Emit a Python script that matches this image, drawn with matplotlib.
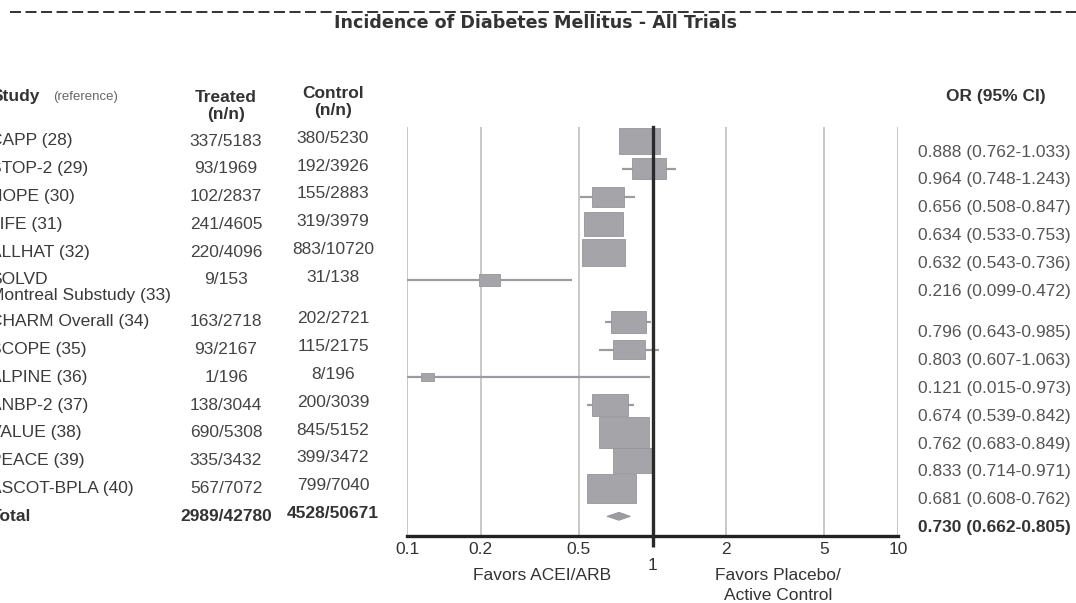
import numpy as np
import matplotlib.pyplot as plt
import matplotlib.transforms as mtransforms
from matplotlib.patches import Rectangle, Polygon
from matplotlib.lines import Line2D
from matplotlib.ticker import FixedLocator, FixedFormatter

plt.rcParams['font.family'] = ['Liberation Sans', 'DejaVu Sans']

# data
studies = ['CAPP (28)', 'STOP-2 (29)', 'HOPE (30)', 'LIFE (31)', 'ALLHAT (32)',
           'SOLVD\nMontreal Substudy (33)', 'CHARM Overall (34)', 'SCOPE (35)',
           'ALPINE (36)', 'ANBP-2 (37)', 'VALUE (38)', 'PEACE (39)',
           'ASCOT-BPLA (40)']
treated = ['337/5183', '93/1969', '102/2837', '241/4605', '220/4096', '9/153',
           '163/2718', '93/2167', '1/196', '138/3044', '690/5308', '335/3432',
           '567/7072']
control = ['380/5230', '192/3926', '155/2883', '319/3979', '883/10720', '31/138',
           '202/2721', '115/2175', '8/196', '200/3039', '845/5152', '399/3472',
           '799/7040']
odds = [0.888, 0.964, 0.656, 0.634, 0.632, 0.216, 0.796, 0.803, 0.121, 0.674,
        0.762, 0.833, 0.681]
ci_lo = [0.762, 0.748, 0.508, 0.533, 0.543, 0.099, 0.643, 0.607, 0.015, 0.539,
         0.683, 0.714, 0.608]
ci_hi = [1.033, 1.243, 0.847, 0.753, 0.736, 0.472, 0.985, 1.063, 0.973, 0.842,
         0.849, 0.971, 0.762]
weights = [9.4, 6.4, 5.7, 8.5, 10.5, 2.4, 6.9, 5.8, 0.9, 7.2, 13.9, 9.3, 13.0]

total_treated = '2989/42780'
total_control = '4528/50671'
total_or, total_lo, total_hi = 0.730, 0.662, 0.805

xticks = [0.1, 0.2, 0.5, 2, 5, 10]
xtick_labels = ['0.1', '0.2', '0.5', '2', '5', '10']

W, H = 1076, 603
fig = plt.figure(figsize=(W / 100, H / 100), dpi=100)

def fx(px):
    return px / W

def fy(py):
    return 1 - py / H

# row positions: extra half row after a two line label
rows = []
pos = 0.0
for name in studies:
    rows.append(pos)
    pos += 1.5 if '\n' in name else 1.0
total_row = pos

row_px = 27.8
top_px, bot_px, left_px, right_px = 127, 536, 407, 898
ax = fig.add_axes([fx(left_px), fy(bot_px), fx(right_px - left_px),
                   (bot_px - top_px) / H])
ax.set_xscale('log')
ax.set_xlim(0.1, 10)
y_top = -(141 - top_px) / row_px
y_bot = (bot_px - 141) / row_px
ax.set_ylim(y_bot, y_top)

for s in ['top', 'right', 'left']:
    ax.spines[s].set_visible(False)
ax.spines['bottom'].set_linewidth(2.4)
ax.spines['bottom'].set_color('#222222')
ax.set_yticks([])

for xv in xticks:
    ax.axvline(xv, color='#c4c4c4', lw=1.3, zorder=1)
ax.axvline(1, color='#2a2a2a', lw=2.4, zorder=5, clip_on=False)

ax.xaxis.set_major_locator(FixedLocator(xticks))
ax.xaxis.set_major_formatter(FixedFormatter(xtick_labels))
ax.xaxis.set_minor_locator(FixedLocator([1]))
ax.xaxis.set_minor_formatter(FixedFormatter(['1']))
ax.tick_params(axis='x', which='major', length=0, pad=4.5, labelsize=12.5,
               labelcolor='#333333')
ax.tick_params(axis='x', which='minor', length=8, width=2.4, color='#2a2a2a',
               pad=7.5, labelsize=12.5, labelcolor='#333333')

box_col = '#a5a5a9'
edge_col = '#96969a'
for r, o, lo, hi, w in zip(rows, odds, ci_lo, ci_hi, weights):
    ax.plot([lo, hi], [r, r], color='#9c9ca0', lw=1.6, zorder=2,
            solid_capstyle='butt')
    h_px = 8.3 * np.sqrt(w)
    w_dec = 1.6 * h_px / 243
    hr = h_px / row_px
    x0 = o * 10 ** (-w_dec / 2)
    x1 = o * 10 ** (w_dec / 2)
    ax.add_patch(Rectangle((x0, r - hr / 2), x1 - x0, hr, facecolor=box_col,
                           edgecolor=edge_col, lw=0.6, zorder=3))

dh = 8 / row_px
ax.add_patch(Polygon([(total_lo * 0.985, total_row),
                      (total_or, total_row - dh / 2),
                      (total_hi * 1.01, total_row),
                      (total_or, total_row + dh / 2)],
                     closed=True, facecolor='#9c9ca0', edgecolor='#96969a',
                     lw=0.6, zorder=3))

# text columns, rows tied to the forest axes
tr = mtransforms.blended_transform_factory(fig.transFigure, ax.transData)
fs = 12.5
for r, name, t, c, o, lo, hi in zip(rows, studies, treated, control, odds,
                                     ci_lo, ci_hi):
    lines = name.split('\n')
    for k, ln in enumerate(lines):
        fig.text(fx(-9.5), r + 0.55 * k, ln, transform=tr, fontsize=fs,
                 color='#3a3a3a', va='center', ha='left')
    fig.text(fx(226), r, t, transform=tr, fontsize=fs, color='#444444',
             va='center', ha='center')
    fig.text(fx(333), r - 0.1, c, transform=tr, fontsize=fs, color='#444444',
             va='center', ha='center')
    fig.text(fx(918), r + 0.4, f'{o:.3f} ({lo:.3f}-{hi:.3f})', transform=tr,
             fontsize=fs, color='#555555', va='center', ha='left')

fig.text(fx(-9.5), total_row, 'Total', transform=tr, fontsize=fs,
         fontweight='bold', color='#333333', va='center', ha='left')
fig.text(fx(226), total_row, total_treated, transform=tr, fontsize=fs,
         fontweight='bold', color='#333333', va='center', ha='center')
fig.text(fx(333), total_row - 0.1, total_control, transform=tr, fontsize=fs,
         fontweight='bold', color='#333333', va='center', ha='center')
fig.text(fx(918), total_row + 0.4,
         f'{total_or:.3f} ({total_lo:.3f}-{total_hi:.3f})', transform=tr,
         fontsize=fs, fontweight='bold', color='#333333', va='center', ha='left')

# headers
fig.text(fx(-8.5), fy(97), 'Study', fontsize=fs, fontweight='bold',
         color='#333333', va='center', ha='left')
fig.text(fx(53), fy(97), '(reference)', fontsize=9.5, color='#666666',
         va='center', ha='left')
fig.text(fx(226), fy(97), 'Treated', fontsize=fs, fontweight='bold',
         color='#333333', va='center', ha='center')
fig.text(fx(226), fy(114), '(n/n)', fontsize=fs, fontweight='bold',
         color='#333333', va='center', ha='center')
fig.text(fx(333), fy(94), 'Control', fontsize=fs, fontweight='bold',
         color='#333333', va='center', ha='center')
fig.text(fx(333), fy(111), '(n/n)', fontsize=fs, fontweight='bold',
         color='#333333', va='center', ha='center')
fig.text(fx(996), fy(97), 'OR (95% CI)', fontsize=fs, fontweight='bold',
         color='#333333', va='center', ha='center')

fig.text(fx(536), fy(22.5), 'Incidence of Diabetes Mellitus - All Trials',
         fontsize=12.6, fontweight='bold', color='#333333', va='center',
         ha='center', family=['DejaVu Sans'])
fig.add_artist(Line2D([fx(10), fx(1076)], [fy(11.5), fy(11.5)],
                      color='#222222', lw=1.3, dashes=(6.1, 2.5),
                      transform=fig.transFigure))

fig.text(fx(542), fy(576), 'Favors ACEI/ARB', fontsize=fs, color='#333333',
         va='center', ha='center')
fig.text(fx(778), fy(576), 'Favors Placebo/', fontsize=fs, color='#333333',
         va='center', ha='center')
fig.text(fx(778), fy(596), 'Active Control', fontsize=fs, color='#333333',
         va='center', ha='center')

fig.savefig('out.png', dpi=100)
